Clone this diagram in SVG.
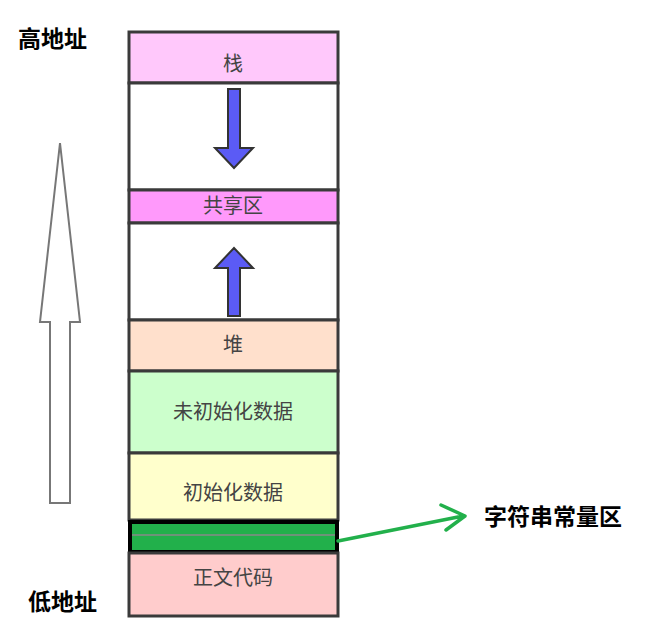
<svg xmlns="http://www.w3.org/2000/svg" width="661" height="633" viewBox="0 0 661 633">
<style>
.seg{stroke:#3a3a3a;stroke-width:3}
.t{font-family:"Noto Sans CJK SC","Noto Sans",sans-serif;font-size:20px;fill:#444;text-anchor:middle}
.b{font-family:"Noto Sans CJK SC","Noto Sans",sans-serif;font-size:23px;font-weight:bold;fill:#000}
.ba{fill:#5b5bf5;stroke:#333;stroke-width:2}
</style>
<rect width="661" height="633" fill="#fff"/>
<g id="stack"><rect class="seg" x="129" y="32" width="209" height="51" fill="#ffc8fb"/><text class="t" x="233" y="71">栈</text></g>
<g id="gap1"><rect class="seg" x="129" y="83" width="209" height="107" fill="#fff"/></g>
<g id="shared"><rect class="seg" x="129" y="190" width="209" height="33" fill="#ff99fb"/><text class="t" x="233" y="213">共享区</text></g>
<g id="gap2"><rect class="seg" x="129" y="223" width="209" height="97" fill="#fff"/></g>
<g id="heap"><rect class="seg" x="129" y="320" width="209" height="51" fill="#ffe0cc"/><text class="t" x="233" y="352">堆</text></g>
<g id="bss"><rect class="seg" x="129" y="371" width="209" height="82" fill="#ccffcc"/><text class="t" x="233" y="419">未初始化数据</text></g>
<g id="data"><rect class="seg" x="129" y="453" width="209" height="67" fill="#ffffcc"/><text class="t" x="233" y="500">初始化数据</text></g>
<g id="rodata"><rect x="130" y="522" width="207" height="30" fill="#22b04b" stroke="#000" stroke-width="4"/><line x1="132" y1="535" x2="335" y2="535" stroke="#888" stroke-width="1.5"/></g>
<g id="text"><rect class="seg" x="129" y="553" width="209" height="63" fill="#ffcccc"/><text class="t" x="233" y="585">正文代码</text></g>
<g id="arrows">
<polygon class="ba" points="228,89 240,89 240,148 253,148 234,168 215,148 228,148"/>
<polygon class="ba" points="228,316 240,316 240,268 253,268 234,248 215,268 228,268"/>
<polygon points="50,503 70,503 70,322 80,322 60,143 40,322 50,322" fill="#fff" stroke="#777" stroke-width="2"/>
<path d="M338,541 L463,516 M441,505 L465,516 L446,530" fill="none" stroke="#22b04b" stroke-width="3.5" stroke-linecap="round" stroke-linejoin="round"/>
</g>
<g id="labels">
<text class="b" x="18" y="47">高地址</text>
<text class="b" x="28" y="610">低地址</text>
<text class="b" x="484" y="525">字符串常量区</text>
</g>
</svg>
